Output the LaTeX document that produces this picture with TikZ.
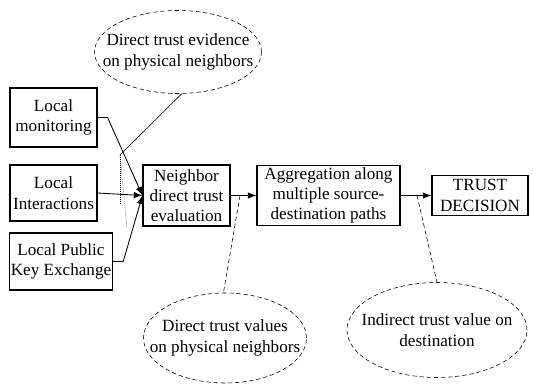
\documentclass[tikz,border=0pt]{standalone}
\usepackage{fontspec}
\setmainfont{Liberation Serif}
\usetikzlibrary{shapes.geometric,arrows.meta}

\begin{document}
\begin{tikzpicture}[x=0.7pt, y=-0.7pt,
    font=\fontsize{12}{14.2}\selectfont,
    box/.style={draw, thick, align=center, inner sep=1pt},
    bubble/.style={draw, ellipse, densely dashed, thin, inner sep=0pt},
    flow/.style={-{Latex[length=6pt, width=4.5pt]}, semithick},
    callout/.style={densely dashed, thin}]
        % 枠
        \useasboundingbox (0,0) rectangle (533,385);

        % 入力の箱
        \node[box, minimum width=60.9pt, minimum height=41.3pt] (mon) at (53.5,117.5) {Local\\monitoring};
        \node[box, minimum width=60.9pt, minimum height=39.2pt] (inter) at (53.5,193) {Local\\Interactions};
        \node[box, minimum width=71.4pt, minimum height=39.9pt] (pke) at (61,261.5) {Local Public\\Key Exchange};

        % 処理の箱
        \node[box, minimum width=60.9pt, minimum height=42.7pt] (nbr) at (186.5,195.5) {Neighbor\\direct trust\\evaluation};
        \node[box, minimum width=100.1pt, minimum height=42pt] (agg) at (328.5,195.5) {Aggregation along\\multiple source-\\destination paths};
        \node[box, minimum width=67.2pt, minimum height=28pt] (dec) at (480,195.5) {TRUST\\DECISION};

        % 楕円の説明
        \node[bubble, minimum width=116.9pt, minimum height=58.1pt,
              label={[align=center]center:Direct trust evidence\\on physical neighbors}] (evid) at (178,52) {};
        \node[bubble, minimum width=114.1pt, minimum height=63pt,
              label={[align=center]center:Direct trust values\\on physical neighbors}] (dval) at (225,338) {};
        \node[bubble, minimum width=126pt, minimum height=66.5pt,
              label={[align=center]center:Indirect trust value on\\destination}] (ival) at (437,330) {};

        % 矢印
        \draw[flow] (mon.east) -- ++(10,0) -- (nbr.west);
        \draw[flow] (inter.east) -- (nbr.west);
        \draw[flow] (pke.east) -- ++(10,0) -- (nbr.west);
        \draw[flow] (nbr.east) -- (agg.west);
        \draw[flow] (agg.east) -- (dec.west);

        % 引き出し線
        \coordinate (tip) at (120,155);
        \coordinate (low1) at (120,204);
        \coordinate (low2) at (127,228);
        \coordinate (c1) at (240,195.5);
        \coordinate (c2) at (417,195.5);
        \draw[thin] (evid.-85) -- (tip);
        \draw[densely dotted, thin] (tip) -- (low1);
        \draw[densely dotted, thin] (tip) -- (low2);
        \draw[callout] (c1) -- (dval.92);
        \draw[callout] (c2) -- (ival.north);

    \end{tikzpicture}
\end{document}
